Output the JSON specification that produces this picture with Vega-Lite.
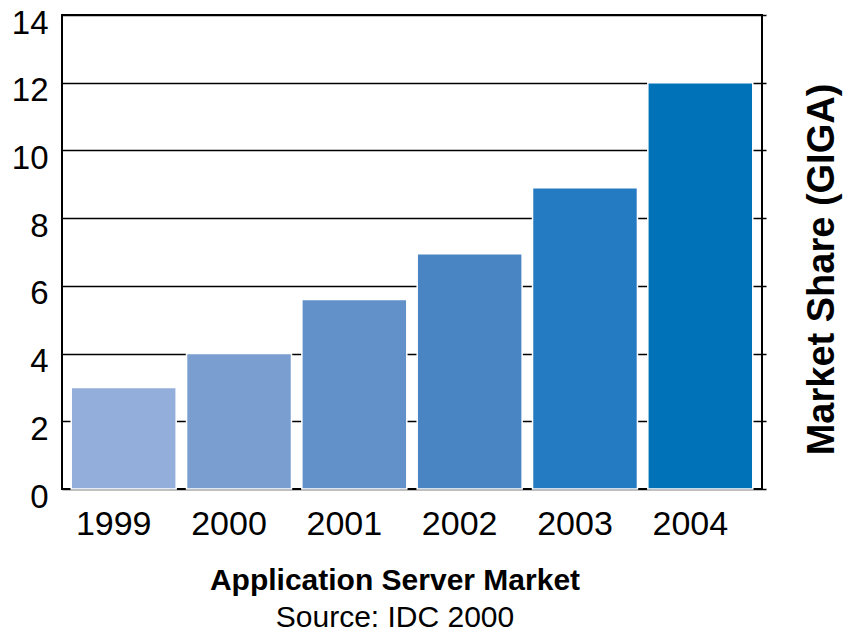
{
  "$schema": "https://vega.github.io/schema/vega-lite/v6.json",
  "width": 700,
  "height": 474,
  "autosize": {"type": "none"},
  "padding": {"left": 62, "top": 15, "right": 82, "bottom": 148},
  "config": {
    "font": "Liberation Sans",
    "view": {"stroke": "black", "strokeWidth": 2}
  },
  "title": {
    "text": "Application Server Market",
    "subtitle": "Source: IDC 2000",
    "orient": "bottom",
    "anchor": "middle",
    "dx": -17,
    "offset": 25,
    "font": "Liberation Sans",
    "fontSize": 30,
    "fontWeight": "bold",
    "color": "black",
    "subtitleFont": "Liberation Sans",
    "subtitleFontSize": 30,
    "subtitleFontWeight": "normal",
    "subtitleColor": "black",
    "subtitlePadding": 7
  },
  "data": {
    "values": [
      {"year": "1999", "share": 3.0},
      {"year": "2000", "share": 4.0},
      {"year": "2001", "share": 5.6},
      {"year": "2002", "share": 6.95},
      {"year": "2003", "share": 8.9},
      {"year": "2004", "share": 12.0}
    ]
  },
  "resolve": {"scale": {"y": "shared"}, "axis": {"y": "independent"}},
  "layer": [
    {
      "mark": {"type": "bar", "stroke": "white", "strokeWidth": 1.5},
      "encoding": {
        "x": {
          "field": "year",
          "type": "ordinal",
          "scale": {"paddingInner": 0.09, "paddingOuter": 0.08},
          "axis": {
            "title": null,
            "labelAngle": 0,
            "labelFontSize": 34,
            "labelColor": "black",
            "labelPadding": 18,
            "labelOffset": -10,
            "ticks": false,
            "domain": false
          }
        },
        "y": {
          "field": "share",
          "type": "quantitative",
          "scale": {"domain": [0, 14], "nice": false},
          "axis": {
            "orient": "left",
            "title": null,
            "values": [0, 2, 4, 6, 8, 10, 12, 14],
            "labelFontSize": 33,
            "labelColor": "black",
            "labelPadding": 14,
            "labelOffset": 8,
            "ticks": false,
            "domain": false,
            "grid": true,
            "gridColor": "black",
            "gridWidth": 1.5,
            "gridOpacity": 1
          }
        },
        "color": {
          "field": "year",
          "type": "ordinal",
          "scale": {
            "domain": ["1999", "2000", "2001", "2002", "2003", "2004"],
            "range": ["#93aedb", "#7a9ed0", "#6291c9", "#4984c3", "#257bc2", "#0072b8"]
          },
          "legend": null
        }
      }
    },
    {
      "mark": {"type": "bar", "opacity": 0},
      "encoding": {
        "x": {"field": "year", "type": "ordinal"},
        "y": {
          "field": "share",
          "type": "quantitative",
          "axis": {
            "orient": "right",
            "title": "Market Share (GIGA)",
            "titleFontSize": 38,
            "titleFontWeight": "bold",
            "titleColor": "black",
            "titleAngle": 270,
            "titlePadding": 75,
            "titleY": 254,
            "values": [0, 2, 4, 6, 8, 10, 12, 14],
            "labels": false,
            "ticks": true,
            "tickSize": 4,
            "tickColor": "black",
            "tickWidth": 1.5,
            "domain": false,
            "grid": false
          }
        }
      }
    }
  ]
}
